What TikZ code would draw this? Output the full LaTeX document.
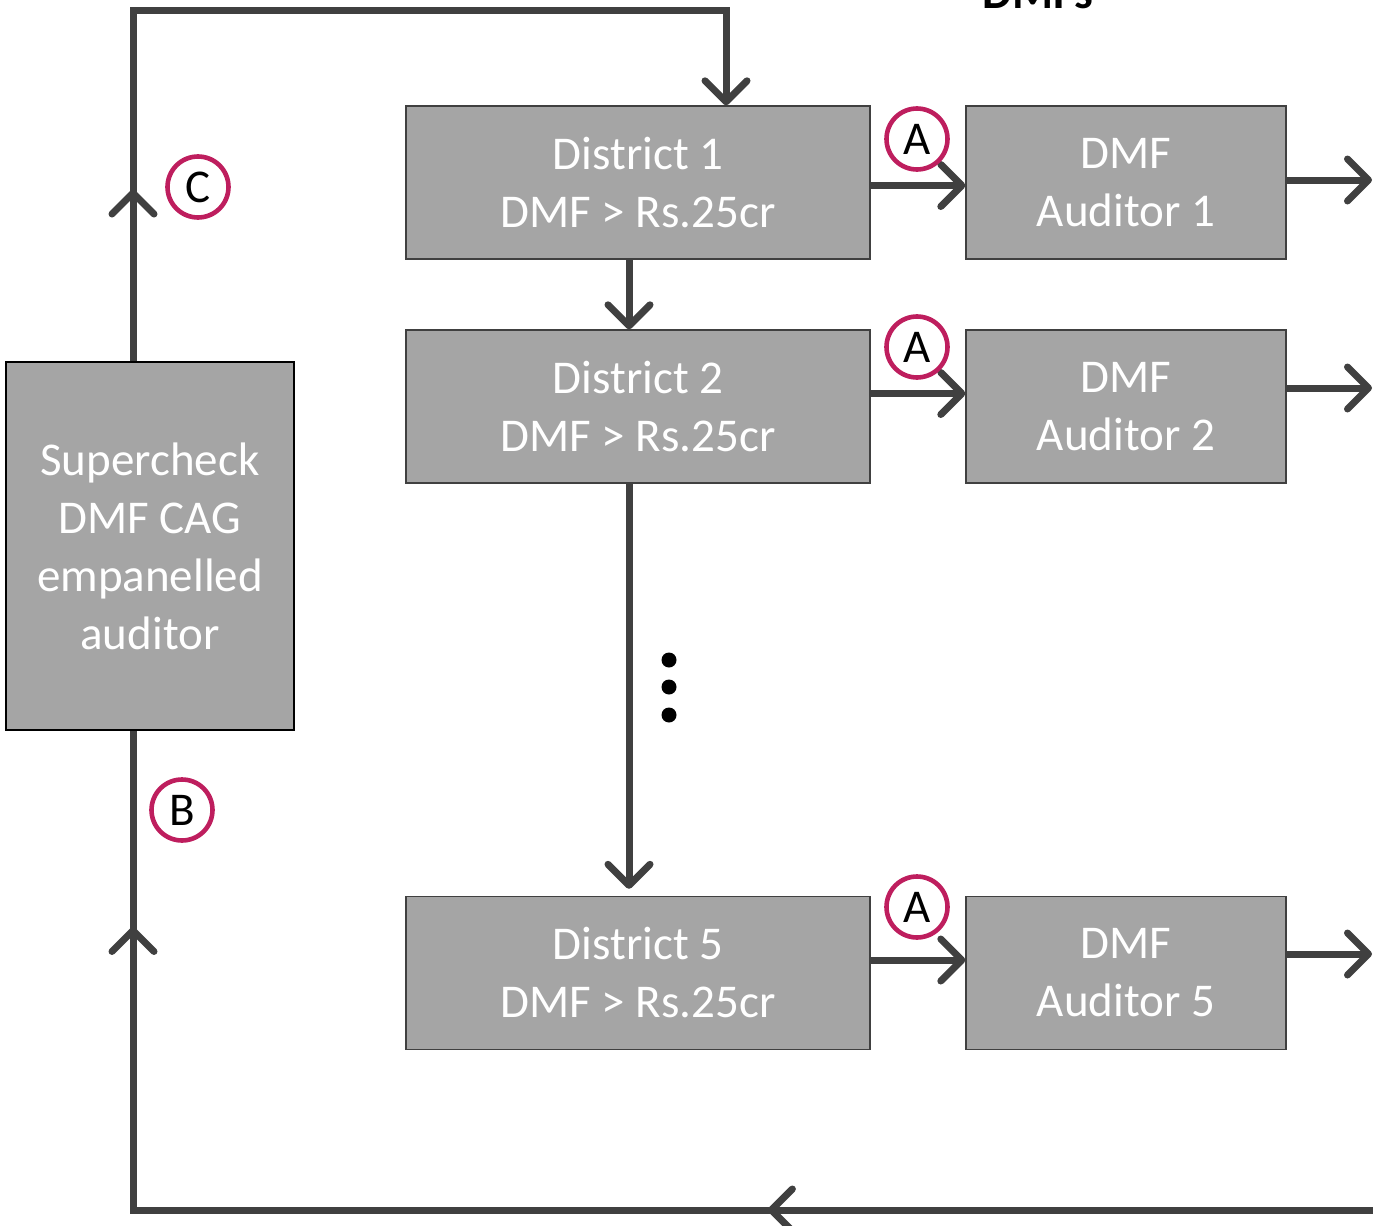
\documentclass[tikz,border=0pt]{standalone}
\usepackage{fontspec}
\setmainfont{Carlito}
\usetikzlibrary{arrows.meta,decorations.markings,calc}
\definecolor{boxgray}{HTML}{A5A5A5}
\definecolor{linegray}{HTML}{404040}
\definecolor{ring}{HTML}{BE1E5E}
\begin{document}
\begin{tikzpicture}[x=0.5pt,y=-0.5pt,
  barb/.tip={Straight Barb[length=10.5pt,width=21pt,line cap=round,line join=round]},
  flow/.style={draw=linegray,line width=3.5pt,-barb},
  loopline/.style={draw=linegray,line width=3.5pt},
  boxtext/.style={text=white,font=\fontsize{23.5}{29}\selectfont,align=center,inner sep=0pt},
  district/.style={boxtext,fill=boxgray,draw=linegray,line width=0.7pt,minimum width=232pt,minimum height=76.5pt},
  auditor/.style={boxtext,fill=boxgray,draw=linegray,line width=0.7pt,minimum width=160pt,minimum height=76.5pt},
  tag/.style={circle,draw=ring,line width=2.3pt,minimum size=30.5pt,inner sep=0pt,font=\fontsize{23.5}{29}\selectfont,text=black},
  dot/.style={circle,fill=black,minimum size=7.5pt,inner sep=0pt}]
\useasboundingbox (0,0) rectangle (1373,1226);

% heading (partly above the page edge)
\node[anchor=base,font=\bfseries\fontsize{23.5}{29}\selectfont] (head) at (1038,9) {DMFs};

% central checker
\node[boxtext,fill=boxgray,draw=black,line width=1pt,minimum width=144pt,minimum height=184pt] (sc) at (150,546)
  {Supercheck\\DMF CAG\\empanelled\\auditor};

% districts
\node[district] (d1) at (638,182.5) {District 1\\DMF > Rs.25cr};
\node[district] (d2) at (638,406.5) {District 2\\DMF > Rs.25cr};
\node[district] (d5) at (638,973) {District 5\\DMF > Rs.25cr};

% auditors
\node[auditor] (a1) at (1126,182.5) {DMF\\Auditor 1};
\node[auditor] (a2) at (1126,406.5) {DMF\\Auditor 2};
\node[auditor] (a5) at (1126,973) {DMF\\Auditor 5};

% outgoing ends
\coordinate (o1) at (1372,180);
\coordinate (o2) at (1372,388);
\coordinate (o5) at (1372,954);

% district to auditor
\draw[flow] ($(d1.east)+(0,3)$) -- ($(a1.west)+(0,3)$);
\draw[flow] ($(d2.east)+(0,-13)$) -- ($(a2.west)+(0,-13)$);
\draw[flow] ($(d5.east)+(0,-13)$) -- ($(a5.west)+(0,-13)$);

% auditor outputs
\draw[flow] (a1.east |- o1) -- (o1);
\draw[flow] (a2.east |- o2) -- (o2);
\draw[flow] (a5.east |- o5) -- (o5);

% district chain
\draw[flow] ($(d1.south)+(-9,0)$) -- ($(d2.north)+(-9,0)$);
\draw[flow] ($(d2.south)+(-9,0)$) -- ($(d5.north)+(-9,-7)$);

% ellipsis
\node[dot] (e1) at (669,660) {};
\node[dot] (e2) at (669,687) {};
\node[dot] (e3) at (669,715) {};

% feedback loops
\coordinate (tl) at (133,10);
\coordinate (tr) at (726,10);
\coordinate (br) at (1373,1210);
\coordinate (bl) at (133,1210);
\draw[flow,postaction={decorate},
  decoration={markings,mark=at position 0.165 with {\arrow{barb}}}]
  ($(sc.north)+(-17,0)$) -- (tl) -- (tr) -- (tr |- d1.north);
\draw[loopline,postaction={decorate},
  decoration={markings,mark=at position 0.352 with {\arrow{barb}},
                        mark=at position 0.886 with {\arrow{barb}}}]
  (br) -- (bl) -- ($(sc.south)+(-17,0)$);

% labels
\node[tag] (ta1) at (917,139) {A};
\node[tag] (ta2) at (917,347) {A};
\node[tag] (ta5) at (917,907) {A};
\node[tag] (tc) at (198,187) {C};
\node[tag] (tb) at (182,810) {B};
\end{tikzpicture}
\end{document}
